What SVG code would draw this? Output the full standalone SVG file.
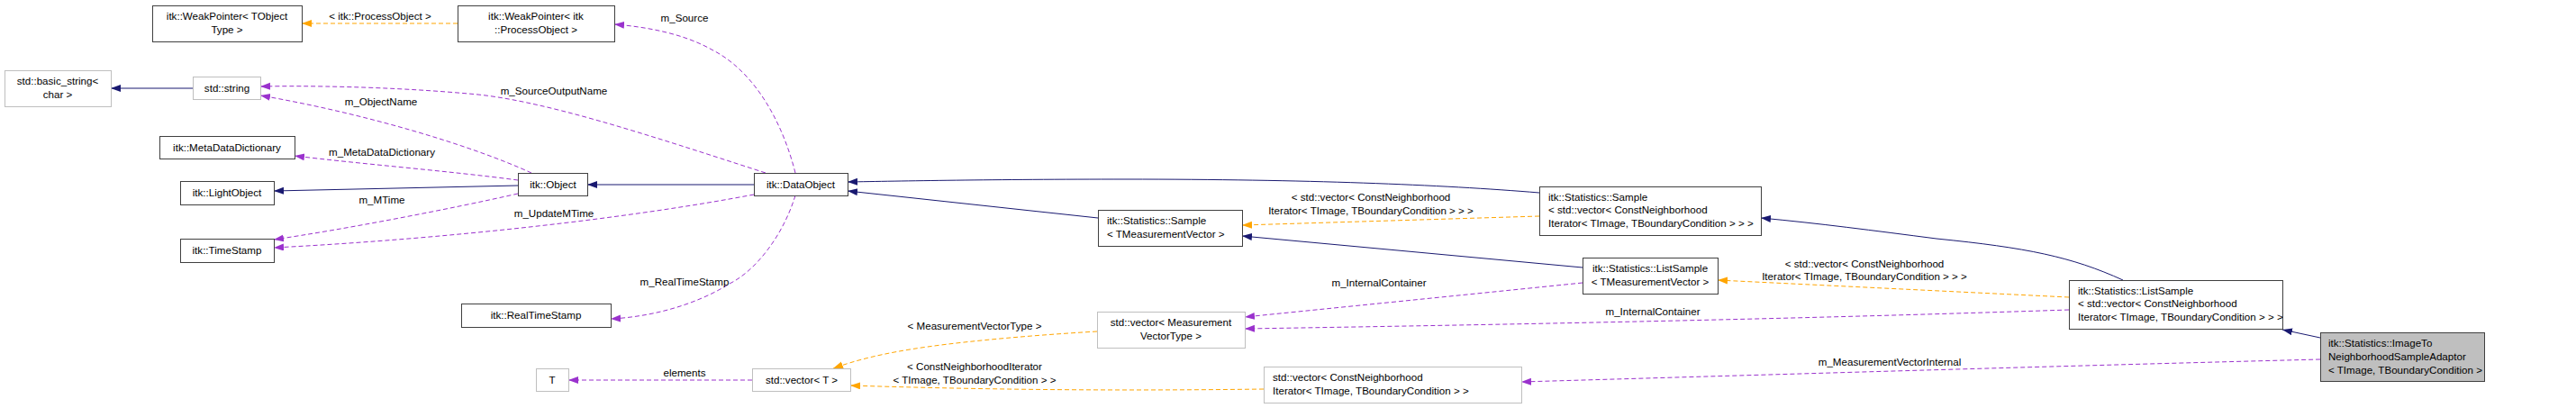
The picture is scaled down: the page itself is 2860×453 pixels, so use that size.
<svg xmlns="http://www.w3.org/2000/svg" width="2860" height="453" viewBox="0 0 2860 453">
<style>
text{font-family:"Liberation Sans",Arial,sans-serif;font-size:11.6px;fill:#000}
.c{text-anchor:middle}
.n rect{fill:#fff;stroke:#404040;stroke-width:1}
.g rect{fill:#fff;stroke:#bfbfbf;stroke-width:1}
.t rect{fill:#bfbfbf;stroke:#404040;stroke-width:1}
.inh{fill:none;stroke:#191970;stroke-width:1}
.use{fill:none;stroke:#9a32cd;stroke-width:1;stroke-dasharray:5,3}
.tpl{fill:none;stroke:#ffa500;stroke-width:1;stroke-dasharray:5,3}
</style>
<defs>
<marker id="an" markerUnits="userSpaceOnUse" markerWidth="12" markerHeight="10" refX="11" refY="4" orient="auto"><path d="M0,0L11,4L0,8z" fill="#191970"/></marker>
<marker id="ap" markerUnits="userSpaceOnUse" markerWidth="12" markerHeight="10" refX="11" refY="4" orient="auto"><path d="M0,0L11,4L0,8z" fill="#9a32cd"/></marker>
<marker id="ao" markerUnits="userSpaceOnUse" markerWidth="12" markerHeight="10" refX="11" refY="4" orient="auto"><path d="M0,0L11,4L0,8z" fill="#ffa500"/></marker>
</defs>
<rect width="2860" height="453" fill="#fff"/>
<g id="connectors">
<path class="inh" marker-end="url(#an)" d="M214,98L123,98"/>
<path class="tpl" marker-end="url(#ao)" d="M508,26L335,26"/>
<text class="c" x="422" y="22">&lt; itk::ProcessObject &gt;</text>
<path class="use" marker-end="url(#ap)" d="M883,192C870,140 840,80 790,55C760,38 720,30 682,27"/>
<text class="c" x="760" y="24">m_Source</text>
<path class="use" marker-end="url(#ap)" d="M850,192C720,150 600,110 520,104C430,96 340,95 289,96"/>
<text class="c" x="615" y="105">m_SourceOutputName</text>
<path class="use" marker-end="url(#ap)" d="M590,192C520,160 400,125 289,106"/>
<text class="c" x="423" y="117">m_ObjectName</text>
<path class="use" marker-end="url(#ap)" d="M575,200C500,190 400,182 327,173"/>
<text class="c" x="424" y="173">m_MetaDataDictionary</text>
<path class="inh" marker-end="url(#an)" d="M575,206L304,212"/>
<path class="use" marker-end="url(#ap)" d="M575,215C500,232 380,255 304,266"/>
<text class="c" x="424" y="226">m_MTime</text>
<path class="use" marker-end="url(#ap)" d="M837,216C700,242 500,265 304,275"/>
<text class="c" x="615" y="241">m_UpdateMTime</text>
<path class="inh" marker-end="url(#an)" d="M837,205L652,205"/>
<path class="use" marker-end="url(#ap)" d="M883,217C870,260 840,300 810,315C770,340 720,352 678,354"/>
<text class="c" x="760" y="317">m_RealTimeStamp</text>
<path class="inh" marker-end="url(#an)" d="M1709,214C1600,205 1450,199 1250,199C1100,199 1000,201 941,202"/>
<path class="inh" marker-end="url(#an)" d="M1219,242L941,212"/>
<path class="tpl" marker-end="url(#ao)" d="M1709,240L1379,250"/>
<text class="c" x="1522" y="223">&lt; std::vector&lt; ConstNeighborhood</text>
<text class="c" x="1522" y="238">Iterator&lt; TImage, TBoundaryCondition &gt; &gt; &gt;</text>
<path class="inh" marker-end="url(#an)" d="M1757,297L1379,262"/>
<path class="use" marker-end="url(#ap)" d="M1757,314C1620,328 1480,342 1382,352"/>
<text class="c" x="1531" y="318">m_InternalContainer</text>
<path class="use" marker-end="url(#ap)" d="M2297,344C2000,354 1700,360 1382,365"/>
<text class="c" x="1835" y="350">m_InternalContainer</text>
<path class="tpl" marker-end="url(#ao)" d="M2297,330L1907,311"/>
<text class="c" x="2070" y="297">&lt; std::vector&lt; ConstNeighborhood</text>
<text class="c" x="2070" y="311">Iterator&lt; TImage, TBoundaryCondition &gt; &gt; &gt;</text>
<path class="inh" marker-end="url(#an)" d="M2357,311C2300,285 2250,275 2150,265C2080,256 2020,248 1955,242"/>
<path class="inh" marker-end="url(#an)" d="M2576,375L2534,366"/>
<path class="use" marker-end="url(#ap)" d="M2576,399C2300,406 2000,415 1689,424"/>
<text class="c" x="2098" y="406">m_MeasurementVectorInternal</text>
<path class="tpl" marker-end="url(#ao)" d="M1218,368C1150,372 1080,378 1030,385C980,392 950,400 925,409"/>
<text class="c" x="1082" y="366">&lt; MeasurementVectorType &gt;</text>
<path class="tpl" marker-end="url(#ao)" d="M1403,432C1250,434 1100,433 944,428"/>
<text class="c" x="1082" y="411">&lt; ConstNeighborhoodIterator</text>
<text class="c" x="1082" y="426">&lt; TImage, TBoundaryCondition &gt; &gt;</text>
<path class="use" marker-end="url(#ap)" d="M835,422L631,422"/>
<text class="c" x="760" y="418">elements</text>
</g>
<g id="wp_tobject" class="n"><rect x="169.5" y="6.5" width="166" height="40"/><text class="c" x="252" y="22">itk::WeakPointer&lt; TObject</text><text class="c" x="252" y="37">Type &gt;</text></g>
<g id="wp_process" class="n"><rect x="508.5" y="6.5" width="174" height="40"/><text class="c" x="595" y="22">itk::WeakPointer&lt; itk</text><text class="c" x="595" y="37">::ProcessObject &gt;</text></g>
<g id="basic_string" class="g"><rect x="5.5" y="78.5" width="118" height="40"/><text class="c" x="64" y="94">std::basic_string&lt;</text><text class="c" x="64" y="109">char &gt;</text></g>
<g id="std_string" class="g"><rect x="214.5" y="85.5" width="75" height="25"/><text class="c" x="252" y="102">std::string</text></g>
<g id="metadata" class="n"><rect x="177.5" y="151.5" width="150" height="25"/><text class="c" x="252" y="168">itk::MetaDataDictionary</text></g>
<g id="lightobject" class="n"><rect x="200.5" y="201.5" width="104" height="26"/><text class="c" x="252" y="218">itk::LightObject</text></g>
<g id="timestamp" class="n"><rect x="200.5" y="265.5" width="104" height="26"/><text class="c" x="252" y="282">itk::TimeStamp</text></g>
<g id="object" class="n"><rect x="575.5" y="192.5" width="77" height="25"/><text class="c" x="614" y="209">itk::Object</text></g>
<g id="dataobject" class="n"><rect x="837.5" y="192.5" width="104" height="25"/><text class="c" x="889" y="209">itk::DataObject</text></g>
<g id="realtimestamp" class="n"><rect x="512.5" y="337.5" width="166" height="26"/><text class="c" x="595" y="354">itk::RealTimeStamp</text></g>
<g id="T" class="g"><rect x="595.5" y="409.5" width="36" height="25"/><text class="c" x="613" y="426">T</text></g>
<g id="vector_T" class="g"><rect x="835.5" y="409.5" width="109" height="25"/><text class="c" x="890" y="426">std::vector&lt; T &gt;</text></g>
<g id="sample_tmv" class="n"><rect x="1219.5" y="233.5" width="160" height="40"/><text x="1229" y="249">itk::Statistics::Sample</text><text x="1229" y="264">&lt; TMeasurementVector &gt;</text></g>
<g id="vector_mvt" class="g"><rect x="1218.5" y="346.5" width="164" height="40"/><text class="c" x="1300" y="362">std::vector&lt; Measurement</text><text class="c" x="1300" y="377">VectorType &gt;</text></g>
<g id="vector_cni" class="g"><rect x="1403.5" y="407.5" width="286" height="40"/><text x="1413" y="423">std::vector&lt; ConstNeighborhood</text><text x="1413" y="438">Iterator&lt; TImage, TBoundaryCondition &gt; &gt;</text></g>
<g id="sample_vec" class="n"><rect x="1709.5" y="207.5" width="246" height="54"/><text x="1719" y="223">itk::Statistics::Sample</text><text x="1719" y="237">&lt; std::vector&lt; ConstNeighborhood</text><text x="1719" y="252">Iterator&lt; TImage, TBoundaryCondition &gt; &gt; &gt;</text></g>
<g id="listsample_tmv" class="n"><rect x="1757.5" y="286.5" width="150" height="40"/><text class="c" x="1832" y="302">itk::Statistics::ListSample</text><text class="c" x="1832" y="317">&lt; TMeasurementVector &gt;</text></g>
<g id="listsample_vec" class="n"><rect x="2297.5" y="311.5" width="237" height="54"/><text x="2307" y="327">itk::Statistics::ListSample</text><text x="2307" y="341">&lt; std::vector&lt; ConstNeighborhood</text><text x="2307" y="356">Iterator&lt; TImage, TBoundaryCondition &gt; &gt; &gt;</text></g>
<g id="adaptor" class="t"><rect x="2576.5" y="369.5" width="182" height="54"/><text x="2585" y="385">itk::Statistics::ImageTo</text><text x="2585" y="400">NeighborhoodSampleAdaptor</text><text x="2585" y="415">&lt; TImage, TBoundaryCondition &gt;</text></g>
</svg>
